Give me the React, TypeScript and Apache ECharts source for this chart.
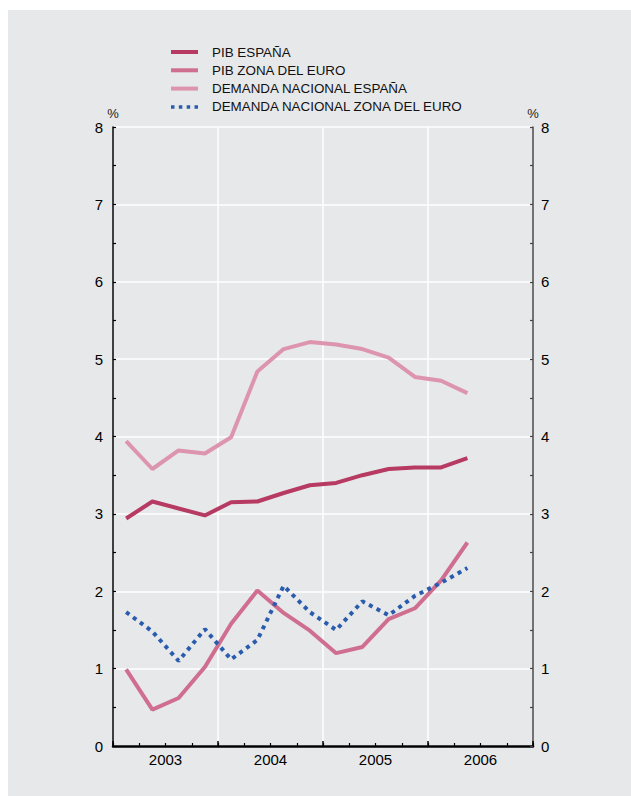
import React, { useEffect, useRef } from "react";
import * as echarts from "echarts";

const quarters = [
  "I 2003", "II 2003", "III 2003", "IV 2003",
  "I 2004", "II 2004", "III 2004", "IV 2004",
  "I 2005", "II 2005", "III 2005", "IV 2005",
  "I 2006", "II 2006", "III 2006", "IV 2006",
];
const years = ["2003", "2004", "2005", "2006"];

const pibEspana = [2.94, 3.16, 3.07, 2.98, 3.15, 3.16, 3.27, 3.37, 3.40, 3.50, 3.58, 3.60, 3.60, 3.72];
const pibZonaEuro = [0.99, 0.47, 0.62, 1.02, 1.58, 2.01, 1.72, 1.49, 1.20, 1.28, 1.64, 1.78, 2.14, 2.63];
const demandaEspana = [3.94, 3.58, 3.82, 3.78, 3.99, 4.84, 5.13, 5.22, 5.19, 5.13, 5.02, 4.77, 4.72, 4.56];
const demandaZonaEuro = [1.73, 1.48, 1.10, 1.51, 1.12, 1.37, 2.07, 1.73, 1.50, 1.87, 1.69, 1.94, 2.11, 2.30];

const FONT = "'Liberation Sans', Arial, Helvetica, sans-serif";
const TXT = "#000000";
const BG = "#e7e8ea";

export default function App() {
  const ref = useRef<HTMLDivElement>(null);
  useEffect(() => {
    if (!ref.current) return;
    const chart = echarts.init(ref.current, null, { renderer: "svg" });
    const yAxisBase = (pos: "left" | "right", lineColor: string) => ({
      type: "value" as const,
      position: pos,
      min: 0,
      max: 8,
      interval: 1,
      name: "%",
      nameLocation: "end" as const,
      nameGap: 1,
      nameTextStyle: { fontSize: 13, color: "#222", fontFamily: FONT, align: "center" as const },
      axisLine: { show: true, lineStyle: { color: lineColor, width: 1.5 } },
      axisTick: { show: true, inside: true, length: 3, lineStyle: { color: lineColor, width: 1.2 } },
      minorTick: { show: true, splitNumber: 2, length: 3, lineStyle: { color: lineColor, width: 1.2 } },
      axisLabel: {
        fontSize: 15,
        color: TXT,
        fontFamily: FONT,
        margin: pos === "left" ? 10 : 8,
      },
      splitLine: { show: pos === "left", lineStyle: { color: "#ffffff", width: 1.5 } },
      minorSplitLine: { show: false },
    });
    chart.setOption({
      animation: false,
      backgroundColor: BG,
      grid: { left: 105, right: 98, top: 117, bottom: 50, containLabel: false },
      legend: {
        orient: "vertical",
        left: 158,
        top: 30,
        itemWidth: 27,
        itemHeight: 4,
        itemGap: 4.3,
        textStyle: { fontSize: 13.4, color: "#111", fontFamily: FONT, lineHeight: 14, padding: [0, 0, 0, 9] },
        data: [
          { name: "PIB ESPAÑA", icon: "rect" },
          { name: "PIB ZONA DEL EURO", icon: "rect" },
          { name: "DEMANDA NACIONAL ESPAÑA", icon: "rect" },
          {
            name: "DEMANDA NACIONAL ZONA DEL EURO",
            icon: "path://M0,0h4v4h-4z M9,0h4v4h-4z M18,0h4v4h-4z M27,0h4v4h-4z",
          },
        ],
      },
      xAxis: [
        {
          type: "category",
          position: "bottom",
          data: quarters,
          boundaryGap: true,
          axisLine: { show: true, lineStyle: { color: "#000", width: 2.5 } },
          axisTick: { show: true, inside: true, interval: 0, length: 3, lineStyle: { color: "#000", width: 1.2 } },
          axisLabel: { show: false },
          splitLine: { show: false },
        },
        {
          type: "category",
          position: "bottom",
          data: years,
          boundaryGap: true,
          axisLine: { show: false },
          axisTick: { show: true, inside: true, interval: 0, length: 5, lineStyle: { color: "#000", width: 1.5 } },
          axisLabel: { show: true, fontSize: 15, color: TXT, fontFamily: FONT, margin: 6 },
          splitLine: { show: true, interval: 0, lineStyle: { color: "#ffffff", width: 1.5 } },
        },
      ],
      yAxis: [yAxisBase("left", "#000"), yAxisBase("right", "#444")],
      series: [
        {
          name: "PIB ESPAÑA",
          type: "line",
          xAxisIndex: 0,
          yAxisIndex: 0,
          data: pibEspana,
          symbol: "none",
          color: "#b63a62",
          lineStyle: { color: "#b63a62", width: 4 },
          z: 5,
        },
        {
          name: "PIB ZONA DEL EURO",
          type: "line",
          xAxisIndex: 0,
          yAxisIndex: 0,
          data: pibZonaEuro,
          symbol: "none",
          color: "#cf6e8e",
          lineStyle: { color: "#cf6e8e", width: 4 },
          z: 4,
        },
        {
          name: "DEMANDA NACIONAL ESPAÑA",
          type: "line",
          xAxisIndex: 0,
          yAxisIndex: 0,
          data: demandaEspana,
          symbol: "none",
          color: "#dd95ae",
          lineStyle: { color: "#dd95ae", width: 4 },
          z: 3,
        },
        {
          name: "DEMANDA NACIONAL ZONA DEL EURO",
          type: "line",
          xAxisIndex: 0,
          yAxisIndex: 0,
          data: demandaZonaEuro,
          symbol: "none",
          color: "#2a5cae",
          lineStyle: { color: "#2a5cae", width: 4, type: [4, 4.6], cap: "butt" },
          z: 6,
        },
      ],
    });
    return () => chart.dispose();
  }, []);
  return (
    <div
      ref={ref}
      style={{ position: "absolute", left: 8, top: 10, width: 623, height: 786 }}
    />
  );
}
